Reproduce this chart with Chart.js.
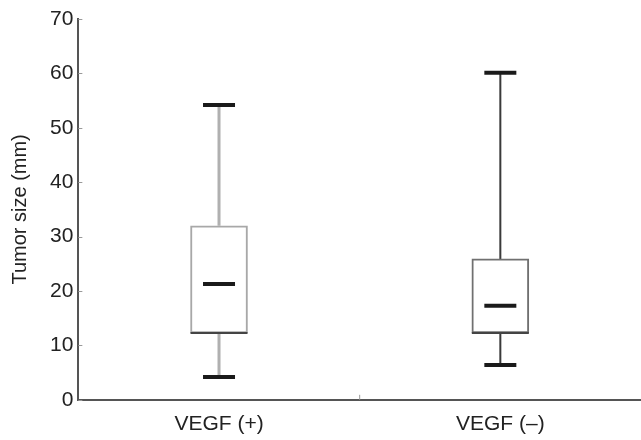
<!DOCTYPE html>
<html>
<head>
<meta charset="utf-8">
<script src="https://cdn.jsdelivr.net/npm/chart.js@4"></script>
<style>
  html, body { margin: 0; padding: 0; background: #fff; }
  #wrap { width: 641px; height: 440px; }
</style>
</head>
<body>
<div id="wrap"><canvas id="boxChart"></canvas></div>
<script>
// groups and box stats
const groups = ['VEGF (+)', 'VEGF (\u2013)'];
const whiskerLow = [4.2, 6.4];
const q1 = [12.3, 12.3];
const median = [21.3, 17.3];
const q3 = [32.0, 25.9];
const whiskerHigh = [54.2, 60.1];
const yTicks = [0, 10, 20, 30, 40, 50, 60, 70];

// per-group line colours
const boxColors = ['#a8a8a8', '#707070'];
const whiskerColors = ['#b0b0b0', '#3a3a3a'];
const whiskerWidths = [3, 2];

const boxData = groups.map((g, i) => [q1[i], q3[i]]);

// whiskers behind the box, caps + medians on top
const boxPlotPlugin = {
    id: 'boxPlot',
    beforeDatasetsDraw(chart) {
        const ctx = chart.ctx;
        const x = chart.scales.x;
        const y = chart.scales.y;
        ctx.save();
        for (let i = 0; i < groups.length; i++) {
            const cx = x.getPixelForValue(i);
            ctx.strokeStyle = whiskerColors[i];
            ctx.lineWidth = whiskerWidths[i];
            ctx.beginPath();
            ctx.moveTo(cx, y.getPixelForValue(whiskerHigh[i]));
            ctx.lineTo(cx, y.getPixelForValue(q3[i]));
            ctx.moveTo(cx, y.getPixelForValue(q1[i]));
            ctx.lineTo(cx, y.getPixelForValue(whiskerLow[i]));
            ctx.stroke();
        }
        // little inward ticks on the y axis
        ctx.strokeStyle = '#999';
        ctx.lineWidth = 1;
        yTicks.forEach(v => {
            const py = Math.round(y.getPixelForValue(v)) + 0.5;
            ctx.beginPath();
            ctx.moveTo(x.left, py);
            ctx.lineTo(x.left + 4, py);
            ctx.stroke();
        });
        // faint divider tick between the groups
        const mid = (x.getPixelForValue(0) + x.getPixelForValue(1)) / 2;
        ctx.beginPath();
        ctx.moveTo(mid, y.bottom);
        ctx.lineTo(mid, y.bottom - 5);
        ctx.stroke();
        ctx.restore();
    },
    afterDatasetsDraw(chart) {
        const ctx = chart.ctx;
        const x = chart.scales.x;
        const y = chart.scales.y;
        ctx.save();
        for (let i = 0; i < groups.length; i++) {
            const cx = x.getPixelForValue(i);
            // darker bottom edge of the box
            const pb = y.getPixelForValue(q1[i]);
            ctx.lineWidth = 2;
            ctx.strokeStyle = '#444';
            ctx.beginPath();
            ctx.moveTo(cx - 28.5, pb);
            ctx.lineTo(cx + 28.5, pb);
            ctx.stroke();
            ctx.lineWidth = 4;
            ctx.strokeStyle = '#1a1a1a';
            [whiskerHigh[i], whiskerLow[i], median[i]].forEach(v => {
                const py = y.getPixelForValue(v);
                ctx.beginPath();
                ctx.moveTo(cx - 16, py);
                ctx.lineTo(cx + 16, py);
                ctx.stroke();
            });
        }
        ctx.restore();
    }
};

new Chart(document.getElementById('boxChart').getContext('2d'), {
    type: 'bar',
    data: {
        labels: groups,
        datasets: [{
            data: boxData,
            backgroundColor: '#ffffff',
            borderColor: boxColors,
            borderWidth: 2,
            borderSkipped: false,
            barThickness: 57
        }]
    },
    options: {
        responsive: true,
        maintainAspectRatio: false,
        animation: false,
        layout: {
            padding: { top: 19, right: -4, left: 4, bottom: -9 }
        },
        plugins: {
            legend: { display: false },
            tooltip: { enabled: false }
        },
        scales: {
            x: {
                offset: true,
                grid: { display: false, drawTicks: false },
                border: { display: true, color: '#555', width: 2 },
                ticks: {
                    color: '#222',
                    padding: 12,
                    font: { family: 'Liberation Sans', size: 21 }
                }
            },
            y: {
                min: 0,
                max: 70,
                afterBuildTicks: (axis) => {
                    axis.ticks = yTicks.map(v => ({ value: v }));
                },
                grid: { display: false, drawTicks: false },
                border: { display: true, color: '#555', width: 2 },
                ticks: {
                    color: '#222',
                    padding: 5,
                    font: { family: 'Liberation Sans', size: 21 }
                },
                title: {
                    display: true,
                    text: 'Tumor size (mm)',
                    color: '#222',
                    padding: { top: 4, bottom: 13 },
                    font: { family: 'Liberation Sans', size: 20 }
                }
            }
        }
    },
    plugins: [boxPlotPlugin]
});
</script>
</body>
</html>
